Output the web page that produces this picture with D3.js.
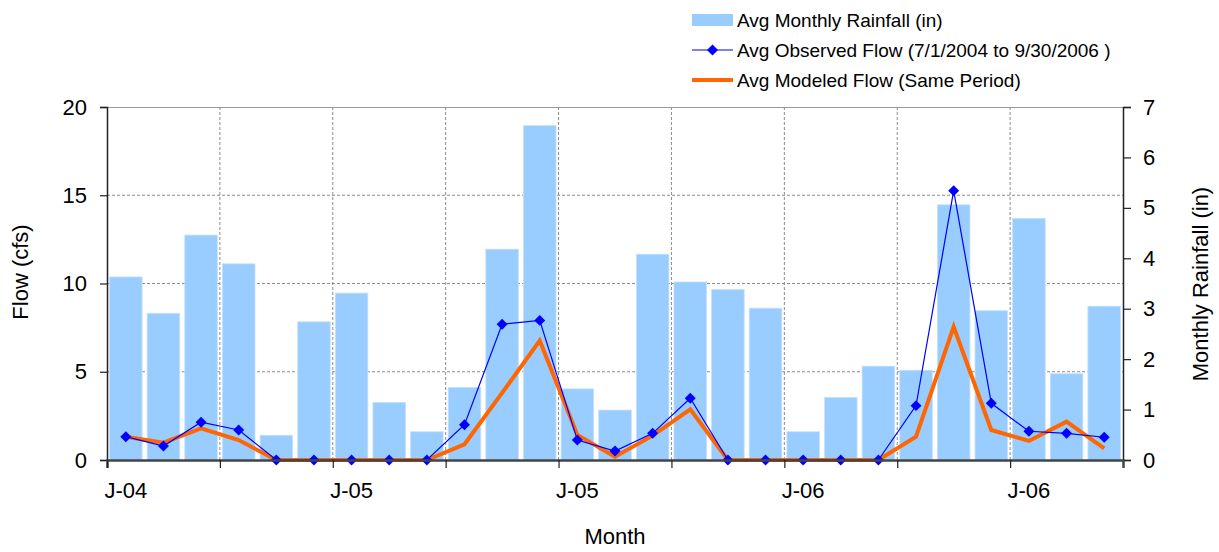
<!DOCTYPE html>
<html>
<head>
<meta charset="utf-8">
<script src="https://cdn.jsdelivr.net/npm/d3@7"></script>
<style>
    body { margin: 0; background: #fff; }
    svg { font-family: "Liberation Sans", Arial, sans-serif; }
</style>
</head>
<body>
<div id="chart"></div>
<script>
// Months from Jul 2004 to Sep 2006
const months = ["Jul-04","Aug-04","Sep-04","Oct-04","Nov-04","Dec-04",
    "Jan-05","Feb-05","Mar-05","Apr-05","May-05","Jun-05",
    "Jul-05","Aug-05","Sep-05","Oct-05","Nov-05","Dec-05",
    "Jan-06","Feb-06","Mar-06","Apr-06","May-06","Jun-06",
    "Jul-06","Aug-06","Sep-06"];

// Avg monthly rainfall (in), right axis
const rainfall = [3.63, 2.91, 4.46, 3.89, 0.49, 2.74, 3.31, 1.14, 0.56,
    1.44, 4.18, 6.63, 1.41, 0.99, 4.08, 3.53, 3.38, 3.01,
    0.56, 1.24, 1.86, 1.78, 5.06, 2.96, 4.79, 1.71, 3.05];

// Avg observed flow (cfs)
const observed = [1.32, 0.79, 2.14, 1.70, 0, 0, 0, 0, 0,
    2.0, 7.69, 7.91, 1.13, 0.51, 1.51, 3.5, 0, 0,
    0, 0, 0, 3.08, 15.26, 3.21, 1.63, 1.51, 1.29];

// Avg modeled flow (cfs)
const modeled = [1.32, 0.98, 1.79, 1.13, 0, 0, 0, 0, 0,
    0.89, 3.8, 6.76, 1.42, 0.19, 1.38, 2.87, 0, 0,
    0, 0, 0, 1.32, 7.55, 1.70, 1.08, 2.17, 0.66];

// x-axis labels, every 6 months
const xLabelIdx = [0, 6, 12, 18, 24];
const xLabels = ["J-04", "J-05", "J-05", "J-06", "J-06"];

const flowTicks = [0, 5, 10, 15, 20];
const rainTicks = [0, 1, 2, 3, 4, 5, 6, 7];

const legendItems = ["Avg Monthly Rainfall (in)",
    "Avg Observed Flow (7/1/2004 to 9/30/2006 )",
    "Avg Modeled Flow (Same Period)"];

const W = 1219, H = 552;
const margin = {top: 107, right: 96, bottom: 92, left: 107};
const width = W - margin.left - margin.right;
const height = H - margin.top - margin.bottom;

const svg = d3.select("#chart").append("svg")
    .attr("width", W)
    .attr("height", H);

const g = svg.append("g")
    .attr("transform", `translate(${margin.left},${margin.top})`);

// Scales
const x = d3.scaleBand()
    .domain(months)
    .range([0, width])
    .paddingInner(0.135)
    .paddingOuter(0.0675);

// boundary scale for ticks / gridlines
const xb = d3.scaleLinear()
    .domain([0, months.length])
    .range([0, width]);

const yFlow = d3.scaleLinear().domain([0, 20]).range([height, 0]);
const yRain = d3.scaleLinear().domain([0, 7]).range([height, 0]);

const gridColor = "#8c8c8c";

// Horizontal gridlines
g.append("g")
    .selectAll("line")
    .data(flowTicks.filter(d => d > 0 && d < 20))
    .join("line")
    .attr("x1", 0).attr("x2", width)
    .attr("y1", d => yFlow(d)).attr("y2", d => yFlow(d))
    .attr("stroke", gridColor)
    .attr("stroke-width", 1)
    .attr("stroke-dasharray", "3,2");

// Vertical gridlines every 3 months
const qBounds = d3.range(3, months.length, 3);
g.append("g")
    .selectAll("line")
    .data(qBounds)
    .join("line")
    .attr("x1", d => xb(d)).attr("x2", d => xb(d))
    .attr("y1", 0).attr("y2", height)
    .attr("stroke", gridColor)
    .attr("stroke-width", 1)
    .attr("stroke-dasharray", "3,2");

// Top border
g.append("line")
    .attr("x1", 0).attr("x2", width)
    .attr("y1", 0.5).attr("y2", 0.5)
    .attr("stroke", "#999")
    .attr("stroke-width", 1);

// Bars
g.append("g")
    .selectAll("rect")
    .data(rainfall)
    .join("rect")
    .attr("x", (d, i) => x(months[i]))
    .attr("y", d => yRain(d))
    .attr("width", x.bandwidth())
    .attr("height", d => height - yRain(d))
    .attr("fill", "#99ccff")
    .attr("stroke", "#c4e0ff")
    .attr("stroke-width", 0.8);

// Lines
const cx = i => x(months[i]) + x.bandwidth() / 2;

const flowLine = d3.line()
    .x((d, i) => cx(i))
    .y(d => yFlow(d));

g.append("path")
    .datum(modeled)
    .attr("fill", "none")
    .attr("stroke", "#ff6600")
    .attr("stroke-width", 4)
    .attr("stroke-linejoin", "miter")
    .attr("d", flowLine);

g.append("path")
    .datum(observed)
    .attr("fill", "none")
    .attr("stroke", "#0000ff")
    .attr("stroke-width", 1.2)
    .attr("d", flowLine);

const diamond = d3.symbol().type(d3.symbolSquare).size(60);

g.append("g")
    .selectAll("path")
    .data(observed)
    .join("path")
    .attr("d", diamond)
    .attr("transform", (d, i) => `translate(${cx(i)},${yFlow(d)}) rotate(45)`)
    .attr("fill", "#0000ff");

// Axes
const axisColor = "#222";
const tickFont = 22;

// Left axis
const leftAxis = d3.axisLeft(yFlow).tickValues(flowTicks).tickSize(7).tickPadding(13);
const la = g.append("g").call(leftAxis);
la.select(".domain").attr("stroke", axisColor).attr("stroke-width", 1.5);
la.selectAll(".tick line").attr("stroke", axisColor).attr("stroke-width", 1.2);
la.selectAll("text").attr("font-size", tickFont).attr("fill", "#000")
    .attr("font-family", "Liberation Sans, Arial, sans-serif");

// Right axis
const rightAxis = d3.axisRight(yRain).tickValues(rainTicks)
    .tickFormat(d3.format("d")).tickSize(8).tickPadding(12);
const ra = g.append("g")
    .attr("transform", `translate(${width},0)`)
    .call(rightAxis);
ra.select(".domain").attr("stroke", axisColor).attr("stroke-width", 1.5);
ra.selectAll(".tick line").attr("stroke", axisColor).attr("stroke-width", 1.2);
ra.selectAll("text").attr("font-size", tickFont).attr("fill", "#000")
    .attr("font-family", "Liberation Sans, Arial, sans-serif");

// Bottom axis: ticks at quarter boundaries
const bottomAxis = d3.axisBottom(xb)
    .tickValues(d3.range(0, months.length, 3))
    .tickSize(8)
    .tickFormat("");
const ba = g.append("g")
    .attr("transform", `translate(0,${height})`)
    .call(bottomAxis);
ba.select(".domain").attr("stroke", "#444").attr("stroke-width", 2.5);
ba.selectAll(".tick line").attr("stroke", axisColor).attr("stroke-width", 1.2);

// Month labels centered on their month slot
g.append("g")
    .selectAll("text")
    .data(xLabelIdx)
    .join("text")
    .attr("x", i => cx(i))
    .attr("y", height + 38)
    .attr("text-anchor", "middle")
    .attr("font-size", tickFont)
    .text((d, i) => xLabels[i]);

// Axis titles
svg.append("text")
    .attr("x", margin.left + width / 2)
    .attr("y", 544)
    .attr("text-anchor", "middle")
    .attr("font-size", tickFont)
    .text("Month");

svg.append("text")
    .attr("transform", "translate(28,272) rotate(-90)")
    .attr("text-anchor", "middle")
    .attr("font-size", tickFont)
    .text("Flow (cfs)");

svg.append("text")
    .attr("transform", "translate(1208,284) rotate(-90)")
    .attr("text-anchor", "middle")
    .attr("font-size", tickFont)
    .text("Monthly Rainfall  (in)");

// Legend
const legend = svg.append("g").attr("transform", "translate(692,0)");
const rowY = [20, 50, 80];

legend.append("rect")
    .attr("x", 0).attr("y", rowY[0] - 6)
    .attr("width", 41).attr("height", 12)
    .attr("fill", "#99ccff");

legend.append("line")
    .attr("x1", 0).attr("x2", 41)
    .attr("y1", rowY[1]).attr("y2", rowY[1])
    .attr("stroke", "#0000ff").attr("stroke-width", 1.2);
legend.append("path")
    .attr("d", diamond)
    .attr("transform", `translate(20.5,${rowY[1]}) rotate(45)`)
    .attr("fill", "#0000ff");

legend.append("line")
    .attr("x1", 0).attr("x2", 41)
    .attr("y1", rowY[2]).attr("y2", rowY[2])
    .attr("stroke", "#ff6600").attr("stroke-width", 4);

legend.selectAll("text.leg")
    .data(legendItems)
    .join("text")
    .attr("class", "leg")
    .attr("x", 45)
    .attr("y", (d, i) => rowY[i] + 7)
    .attr("font-size", 19)
    .text(d => d);
</script>
</body>
</html>
